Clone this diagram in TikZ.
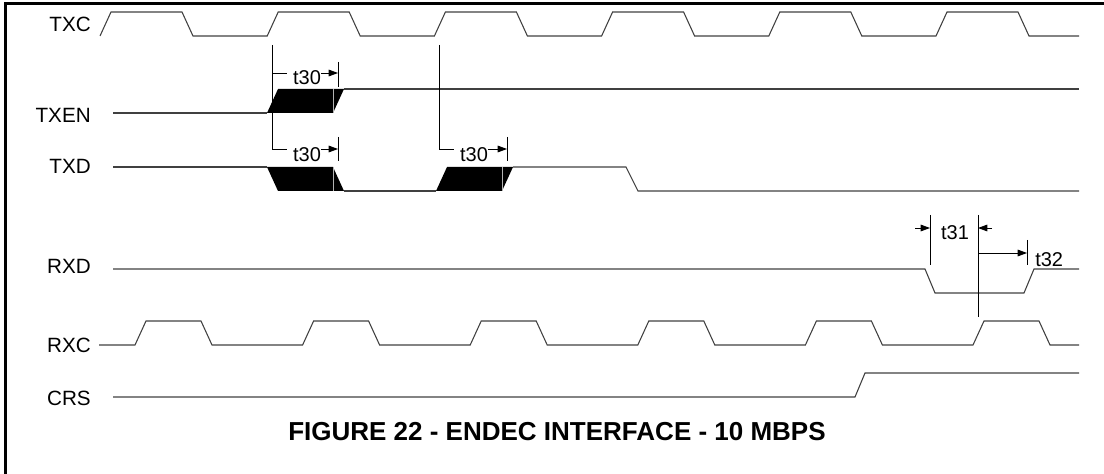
\documentclass[tikz,border=0pt]{standalone}
\usepackage{fontspec}
\setmainfont{Liberation Sans}
\usetikzlibrary{arrows.meta}

\tikzset{
  sig/.style={line width=0.8pt, black!75},
  dim/.style={line width=0.6pt, black},
  dimarrow/.style={dim, -{Triangle[length=7pt,width=5pt]}},
  siglabel/.style={anchor=east, inner sep=0pt, font=\fontsize{15.5}{18}\selectfont},
  tlabel/.style={inner sep=0pt, font=\fontsize{15}{18}\selectfont},
}

\begin{document}
\begin{tikzpicture}[x=0.75pt, y=-0.75pt]
    \useasboundingbox (0,0) rectangle (1104,474);
    \draw[line width=2.25pt] (5,474) -- (5,4) -- (1104,4);

    % signal names
    \node[siglabel] (lblTXC)  at (91,24)  {TXC};
    \node[siglabel] (lblTXEN) at (91,115) {TXEN};
    \node[siglabel] (lblTXD)  at (91,166) {TXD};
    \node[siglabel] (lblRXD)  at (91,266) {RXD};
    \node[siglabel] (lblRXC)  at (91,345) {RXC};
    \node[siglabel] (lblCRS)  at (91,398) {CRS};

    % clocks
    \draw[sig] (100,36) \foreach \k in {0,...,5} {
        -- ({100+167.2*\k},36) -- ({111+167.2*\k},12)
        -- ({182+167.2*\k},12) -- ({193+167.2*\k},36)} -- (1079,36);
    \draw[sig] (99,345) \foreach \k in {0,...,5} {
        -- ({135+167.6*\k},345) -- ({146+167.6*\k},321)
        -- ({201+167.6*\k},321) -- ({212+167.6*\k},345)} -- (1079,345);

    % TXEN
    \draw[sig] (113,113) -- (267,113);
    \fill[black] (267,113) -- (278,89) -- (344,89) -- (333,113) -- cycle;
    \draw[gray!60, line width=0.4pt] (333,89) -- (333,113);
    \draw[sig] (344,89) -- (1079,89);

    % TXD
    \draw[sig] (113,167) -- (267,167);
    \fill[black] (267,167) -- (333,167) -- (344,191) -- (278,191) -- cycle;
    \draw[gray!60, line width=0.4pt] (333,167) -- (333,191);
    \draw[sig] (344,191) -- (436,191);
    \fill[black] (436,191) -- (447,167) -- (513,167) -- (502,191) -- cycle;
    \draw[gray!60, line width=0.4pt] (502,167) -- (502,191);
    \draw[sig] (513,167) -- (626,167) -- (638,191) -- (1079,191);

    % RXD and CRS
    \draw[sig] (113,269) -- (925,269) -- (935,293) -- (1024,293) -- (1034,269) -- (1079,269);
    \draw[sig] (113,397) -- (855,397) -- (865,373) -- (1079,373);

    % t30 timings
    \coordinate (refA) at (272,45);
    \coordinate (refB) at (439,45);
    \draw[dim] (refA) -- (272,149);
    \draw[dim] (refB) -- (439,149);
    \node[tlabel] (t30a) at (307,78)  {t30};
    \node[tlabel] (t30b) at (307,155) {t30};
    \node[tlabel] (t30c) at (474,155) {t30};
    \coordinate (tickA) at (338,73);
    \coordinate (tickB) at (338,149);
    \coordinate (tickC) at (507,149);
    \draw[dim] (272,73) -- (287,73);
    \draw[dim] (272,149) -- (287,149);
    \draw[dim] (439,149) -- (454,149);
    \draw[dimarrow] (t30a.east |- tickA) -- (tickA);
    \draw[dimarrow] (t30b.east |- tickB) -- (tickB);
    \draw[dimarrow] (t30c.east |- tickC) -- (tickC);
    \draw[dim] (338,62) -- (338,87);
    \draw[dim] (338,137) -- (338,161);
    \draw[dim] (507,137) -- (507,161);

    % t31 and t32 timings
    \coordinate (tickD) at (930,228);
    \coordinate (tickE) at (978,228);
    \coordinate (tickF) at (1027,253);
    \draw[dim] (930,215) -- (930,265);
    \draw[dim] (978,215) -- (978,317);
    \draw[dim] (1027,240) -- (1027,265);
    \draw[dimarrow] (915,228) -- (tickD);
    \draw[dimarrow] (992,228) -- (tickE);
    \draw[dimarrow] (978,253) -- (tickF);
    \node[tlabel] (t31) at (955,233) {t31};
    \node[tlabel, anchor=west] (t32) at (1035,260) {t32};

    % caption
    \node[inner sep=0pt, font=\bfseries\fontsize{19.5}{23}\selectfont] (caption) at (557,432)
        {FIGURE 22 - ENDEC INTERFACE - 10 MBPS};
\end{tikzpicture}
\end{document}
